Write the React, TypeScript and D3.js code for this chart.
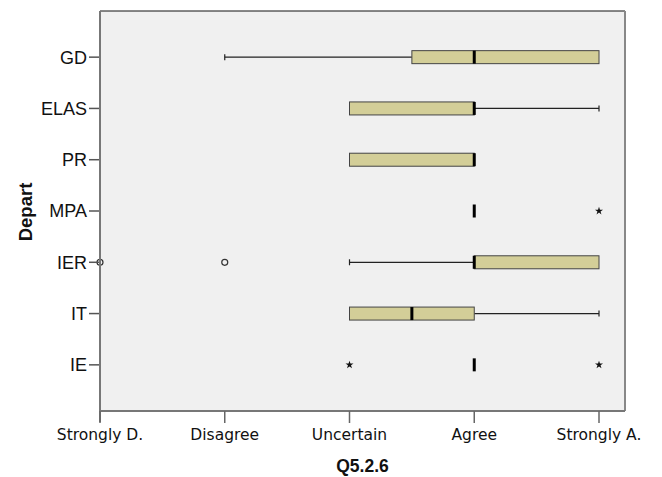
import React from "react";
import * as d3 from "d3";

const categories = ["GD", "ELAS", "PR", "MPA", "IER", "IT", "IE"];
const tickLabels = ["Strongly D.", "Disagree", "Uncertain", "Agree", "Strongly A."];
const tickValues = [1, 2, 3, 4, 5];
// [whiskerMin, q1, median, q3, whiskerMax]
const boxStats: number[][] = [
  [2, 3.5, 4, 5, 5],
  [3, 3, 4, 4, 5],
  [3, 3, 4, 4, 4],
  [4, 4, 4, 4, 4],
  [3, 4, 4, 5, 5],
  [3, 3, 3.5, 4, 5],
  [4, 4, 4, 4, 4],
];
const circleOutliers: number[][] = [[], [], [], [], [1, 2], [], []];
const starOutliers: number[][] = [[], [], [], [5], [], [], [3, 5]];

const W = 662, H = 477;
const L = 100, R = 625, T = 11, B = 411;

export default function App() {
  const x = d3.scaleLinear().domain([1, 5]).range([L, 599]);
  const y = d3.scalePoint<string>().domain(categories).range([T, B]).padding(0.9);
  const bh = 13;
  const star = d3.symbol().type(d3.symbolStar).size(20)();
  return (
    <svg width={W} height={H} style={{ position: "absolute", left: 0, top: 0 }}>
      <rect x={L} y={T} width={R - L} height={B - T} fill="#f0f0f0" stroke="none" />
      <line x1={L} x2={R} y1={T} y2={T} stroke="#111" strokeWidth={1} />
      <line x1={R} x2={R} y1={T} y2={B} stroke="#888" strokeWidth={2} />
      {categories.map((c, i) => {
        const cy = y(c)!;
        const [wmin, q1, med, q3, wmax] = boxStats[i];
        return (
          <g key={c}>
            {wmin < q1 && (
              <g>
                <line x1={x(wmin)} x2={x(q1)} y1={cy} y2={cy} stroke="#222" strokeWidth={1.2} />
                <line x1={x(wmin)} x2={x(wmin)} y1={cy - 3} y2={cy + 3} stroke="#222" strokeWidth={1.2} />
              </g>
            )}
            {wmax > q3 && (
              <g>
                <line x1={x(q3)} x2={x(wmax)} y1={cy} y2={cy} stroke="#222" strokeWidth={1.2} />
                <line x1={x(wmax)} x2={x(wmax)} y1={cy - 3} y2={cy + 3} stroke="#222" strokeWidth={1.2} />
              </g>
            )}
            {q3 > q1 && (
              <rect x={x(q1)} y={cy - bh / 2} width={x(q3) - x(q1)} height={bh}
                fill="#d3ce98" stroke="#444" strokeWidth={1} />
            )}
            <line x1={x(med)} x2={x(med)} y1={cy - bh / 2} y2={cy + bh / 2} stroke="#000" strokeWidth={3} />
            {circleOutliers[i].map((v, j) => (
              <circle key={"c" + j} cx={x(v)} cy={cy} r={3} fill="none" stroke="#333" strokeWidth={1.2} />
            ))}
            {starOutliers[i].map((v, j) => (
              <path key={"s" + j} d={star!} transform={`translate(${x(v)},${cy})`} fill="#111" />
            ))}
            <line x1={L - 11} x2={L} y1={cy} y2={cy} stroke="#555" strokeWidth={1.5} />
            <text x={L - 13} y={cy} dy="0.36em" textAnchor="end"
              fontFamily="Liberation Sans, Arial, sans-serif" fontSize={18} fill="#111">{c}</text>
          </g>
        );
      })}
      <line x1={L} x2={L} y1={T} y2={B + 11} stroke="#777" strokeWidth={2} />
      <line x1={L} x2={R} y1={B} y2={B} stroke="#777" strokeWidth={2} />
      {tickValues.map((v, i) => (
        <g key={v}>
          <line x1={x(v)} x2={x(v)} y1={B} y2={B + 12} stroke="#666" strokeWidth={1.5} />
          <text x={x(v)} y={B + 29} textAnchor="middle"
            fontFamily="DejaVu Sans, sans-serif" fontSize={15.5} fill="#111">{tickLabels[i]}</text>
        </g>
      ))}
      <text x={(L + R) / 2} y={472} textAnchor="middle"
        fontFamily="Liberation Sans, Arial, sans-serif" fontWeight="bold" fontSize={17.5} fill="#111">Q5.2.6</text>
      <text transform={`translate(32,212) rotate(-90)`} textAnchor="middle"
        fontFamily="Liberation Sans, Arial, sans-serif" fontWeight="bold" fontSize={18.5} fill="#111">Depart</text>
    </svg>
  );
}
